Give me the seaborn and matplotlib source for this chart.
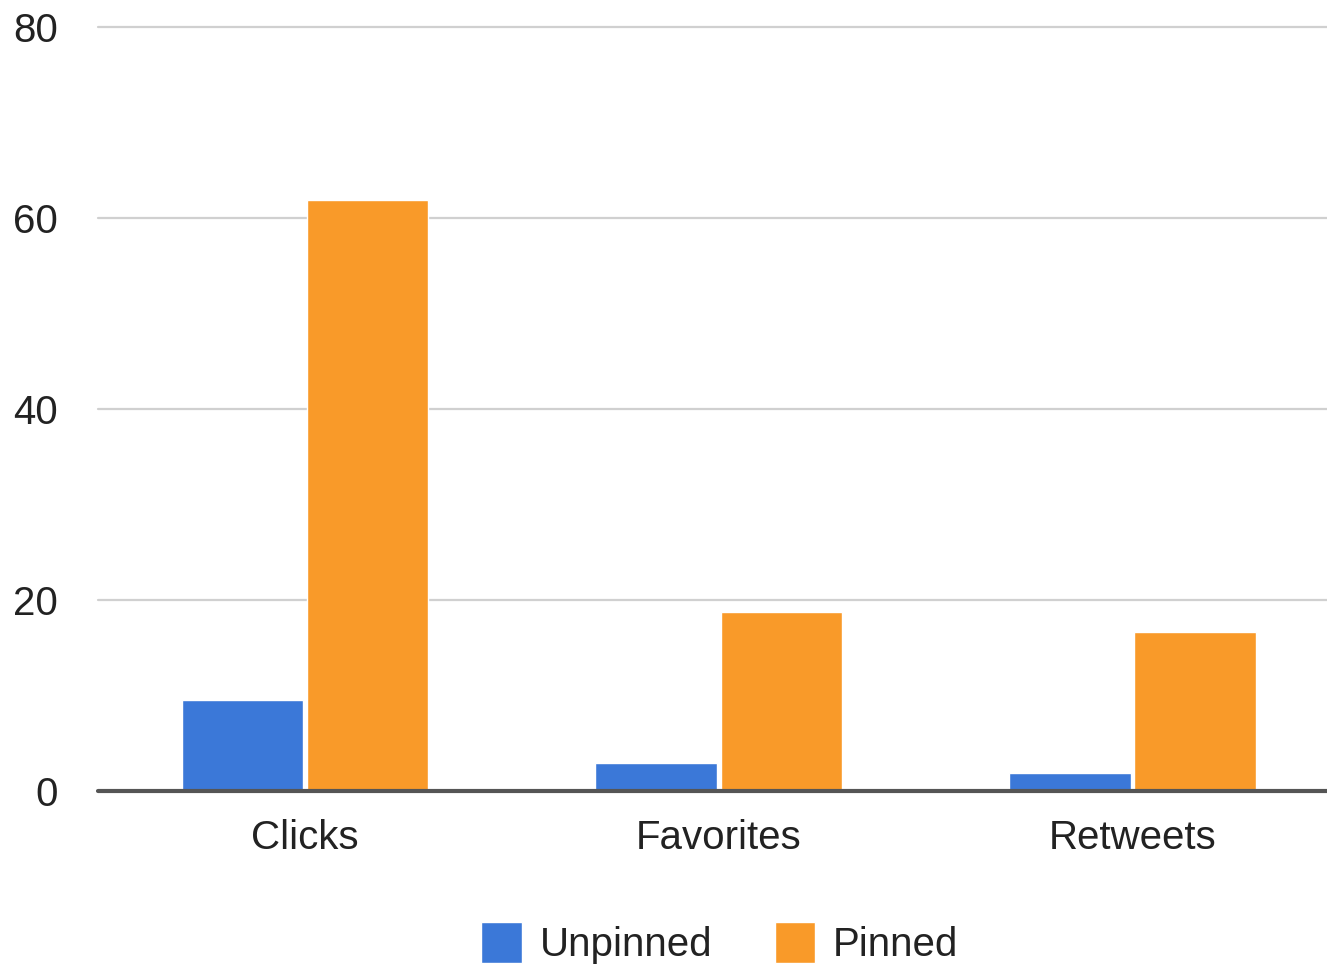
import pandas as pd
import matplotlib.pyplot as plt
import seaborn as sns
from matplotlib.patches import Patch

# Chart data
categories = ['Clicks', 'Favorites', 'Retweets']
unpinned = [9.5, 2.9, 1.85]
pinned = [61.9, 18.7, 16.6]
series_names = ['Unpinned', 'Pinned']
y_ticks = [0, 20, 40, 60, 80]

df = pd.DataFrame({
    'metric': categories * 2,
    'value': unpinned + pinned,
    'series': [series_names[0]] * 3 + [series_names[1]] * 3,
})

colors = {'Unpinned': '#3b78d8', 'Pinned': '#f99a29'}

sns.set_style('white')
plt.rcParams['font.family'] = ['Liberation Sans', 'DejaVu Sans']

fig = plt.figure(figsize=(13.27, 9.66), dpi=100)
ax = fig.add_axes([98 / 1327, 1 - 791 / 966, 1 - 98 / 1327, (791 - 27) / 966])

sns.barplot(data=df, x='metric', y='value', hue='series', palette=colors,
            width=0.605, gap=0.03, saturation=1, ax=ax, legend=False)

ax.set_xlim(-0.5, 2.47)
ax.set_ylim(0, 80)
ax.set_yticks(y_ticks)
ax.set_xlabel('')
ax.set_ylabel('')
for s in ax.spines.values():
    s.set_visible(False)
ax.grid(axis='y', color='#d0d0d0', linewidth=1.6)
ax.set_axisbelow(True)
for gl in ax.get_ygridlines():
    gl.set_clip_on(False)
ax.axhline(0, color='#555555', linewidth=3, zorder=5, clip_on=False)

ax.tick_params(axis='y', length=0, pad=29, labelsize=29, labelcolor='#222222')
ax.tick_params(axis='x', length=0, pad=20, labelsize=29, labelcolor='#222222')

handles = [Patch(facecolor=colors[n], label=n) for n in series_names]
ax.legend(handles=handles, loc='center', bbox_to_anchor=(0.506, -0.199),
          ncol=2, frameon=False, fontsize=29, handlelength=1.0, handleheight=1.2,
          handletextpad=0.45, columnspacing=1.55, borderpad=0, labelcolor='#222222')

fig.savefig('out.png', dpi=100)
